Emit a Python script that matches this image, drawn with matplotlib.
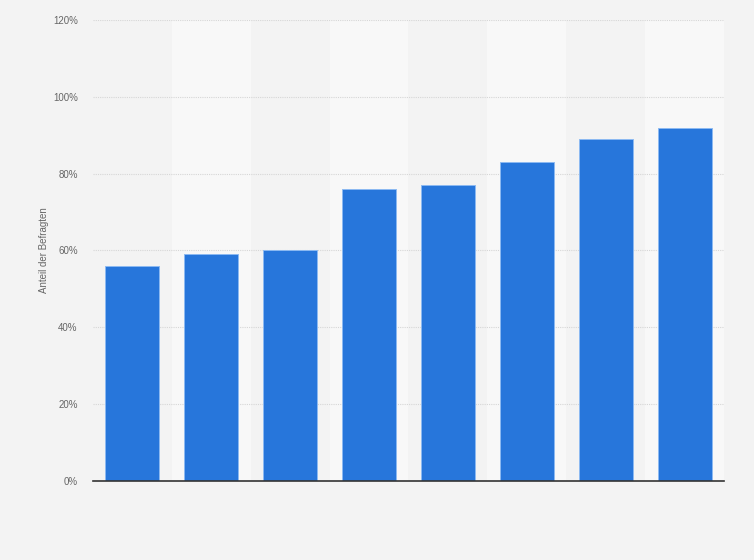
import matplotlib.pyplot as plt
from matplotlib.ticker import FuncFormatter

plt.rcParams["font.family"] = ["Liberation Sans", "DejaVu Sans"]

# Werte (Anteil der Befragten in %)
categories = ["1", "2", "3", "4", "5", "6", "7", "8"]
values = [56, 59, 60, 76, 77, 83, 89, 92]
y_ticks = [0, 20, 40, 60, 80, 100, 120]

bg = "#f3f3f3"
band = "#f8f8f8"
bar_color = "#2776db"

fig = plt.figure(figsize=(7.54, 5.6), dpi=100, facecolor=bg)
ax = fig.add_axes([0.1233, 0.1411, 0.8369, 0.8232])
ax.set_facecolor(bg)

x = list(range(len(categories)))

# abwechselnde Hintergrundstreifen
for i in x:
    if i % 2 == 1:
        ax.axvspan(i - 0.5, i + 0.5, color=band, zorder=0, lw=0)

ax.bar(x, values, width=0.685, color=bar_color, edgecolor="#8cbaf2",
       linewidth=0.7, zorder=3)

ax.set_xlim(-0.5, len(categories) - 0.5)
ax.set_ylim(0, 120)
ax.set_yticks(y_ticks)
ax.yaxis.set_major_formatter(FuncFormatter(lambda v, p: f"{int(v)}%"))
ax.grid(axis="y", color="#d6d6d6", linestyle=(0, (1, 1)), linewidth=0.8, zorder=1)
ax.set_xticks([])

for s in ["top", "right", "left"]:
    ax.spines[s].set_visible(False)
ax.spines["bottom"].set_color("#333333")
ax.spines["bottom"].set_linewidth(1.2)
ax.spines["bottom"].set_zorder(4)

ax.tick_params(axis="y", length=0, labelsize=7, labelcolor="#666666", pad=11)
ax.set_ylabel("Anteil der Befragten", fontsize=7, color="#666666", labelpad=3)

fig.savefig("out.png", dpi=100, facecolor=bg)
